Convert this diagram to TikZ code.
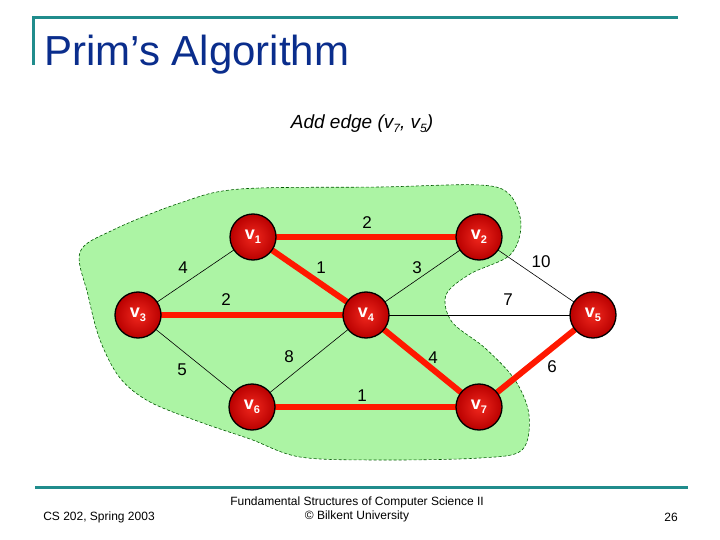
\documentclass[tikz,border=0pt]{standalone}
\usepackage{fontspec}
\setmainfont{Liberation Sans}
\usetikzlibrary{backgrounds}

\definecolor{slideteal}{RGB}{32,140,140}
\definecolor{titleblue}{RGB}{10,45,140}
\definecolor{blobgreen}{RGB}{172,244,164}
\definecolor{treered}{RGB}{255,24,0}

\newcommand{\vlab}[1]{v\raisebox{-0.45ex}{\fontsize{11}{11}\selectfont #1}}

\tikzset{
  vertex/.style={circle, draw=black, line width=1.3pt, minimum size=46pt, inner sep=0pt,
    shading=radial, inner color={rgb,255:red,240;green,40;blue,30},
    outer color={rgb,255:red,185;green,0;blue,0},
    text=white, font=\fontsize{18}{18}\selectfont\bfseries},
  treeedge/.style={treered, line width=6pt},
  plainedge/.style={black, line width=0.6pt},
  weight/.style={font=\fontsize{17}{17}\selectfont, inner sep=0pt}
}

\begin{document}
\begin{tikzpicture}[x=1pt, y=-1pt]
        \useasboundingbox (0,0) rectangle (720,540);

        % Slide frame
        \draw[slideteal, line width=3pt] (33,65) -- (33,18) -- (678,18);
        \draw[slideteal, line width=3pt] (35,487) -- (688,487);
        \node[anchor=base west, text=titleblue, font=\fontsize{42}{42}\selectfont, inner sep=0pt] (title) at (44,66) {Prim’s Algorithm};
        \node[font=\fontsize{19}{19}\selectfont\itshape, inner sep=0pt] (step) at (362,124)
          {Add edge (v\raisebox{-0.4ex}{\fontsize{12}{12}\selectfont 7}, v\raisebox{-0.4ex}{\fontsize{12}{12}\selectfont 5})};

        % Vertices
        \node[vertex] (v1) at (253,237) {\vlab{1}};
        \node[vertex] (v2) at (479,237) {\vlab{2}};
        \node[vertex] (v3) at (138,315) {\vlab{3}};
        \node[vertex] (v4) at (366,315) {\vlab{4}};
        \node[vertex] (v5) at (593,315) {\vlab{5}};
        \node[vertex] (v6) at (252,407) {\vlab{6}};
        \node[vertex] (v7) at (479,407) {\vlab{7}};

        \begin{scope}[on background layer]
        % Known region
        \draw[fill=blobgreen, draw=green!35!black, line width=0.6pt, dash pattern=on 3pt off 2pt]
          plot[smooth cycle, tension=0.55] coordinates {(80,252) (113,230) (180,203) (240,189) (380,187)
            (480,185) (510,195) (521,225) (510,255) (470,274) (446,295) (452,322) (485,348) (515,380)
            (529,415) (522,450) (480,458) (380,460) (300,457) (250,439) (200,422) (150,402) (120,378)
            (100,340) (88,295)};

        % Edges not in the tree
        \draw[plainedge] (v3.center) -- (v1.center);
        \draw[plainedge] (v3.center) -- (v6.center);
        \draw[plainedge] (v2.center) -- (v4.center);
        \draw[plainedge] (v6.center) -- (v4.center);
        \draw[plainedge] (v4.center) -- (v5.center);
        \draw[plainedge] (v2.center) -- (v5.center);

        % Tree edges
        \draw[treeedge] (v1.center) -- (v2.center);
        \draw[treeedge] (v1.center) -- (v4.center);
        \draw[treeedge] (v3.center) -- (v4.center);
        \draw[treeedge] (v4.center) -- (v7.center);
        \draw[treeedge] (v6.center) -- (v7.center);
        \draw[treeedge] (v7.center) -- (v5.center);
        \end{scope}

        % Weights
        \node[weight] (w12) at (367,223) {2};
        \node[weight] (w14) at (321,268) {1};
        \node[weight] (w24) at (417,268) {3};
        \node[weight] (w25) at (541,262) {10};
        \node[weight] (w13) at (183,268) {4};
        \node[weight] (w34) at (226,300) {2};
        \node[weight] (w45) at (508,300) {7};
        \node[weight] (w36) at (182,370) {5};
        \node[weight] (w46) at (289,357) {8};
        \node[weight] (w47) at (433,358) {4};
        \node[weight] (w57) at (552,367) {6};
        \node[weight] (w67) at (362,396) {1};

        % Footer
        \node[font=\fontsize{12}{12}\selectfont, inner sep=0pt] (course) at (99,517) {CS 202, Spring 2003};
        \node[font=\fontsize{12}{14}\selectfont, align=center, inner sep=0pt] (book) at (357,509)
          {Fundamental Structures of Computer Science II\\© Bilkent University};
        \node[font=\fontsize{12}{12}\selectfont, inner sep=0pt] (page) at (671,517) {26};
\end{tikzpicture}
\end{document}
